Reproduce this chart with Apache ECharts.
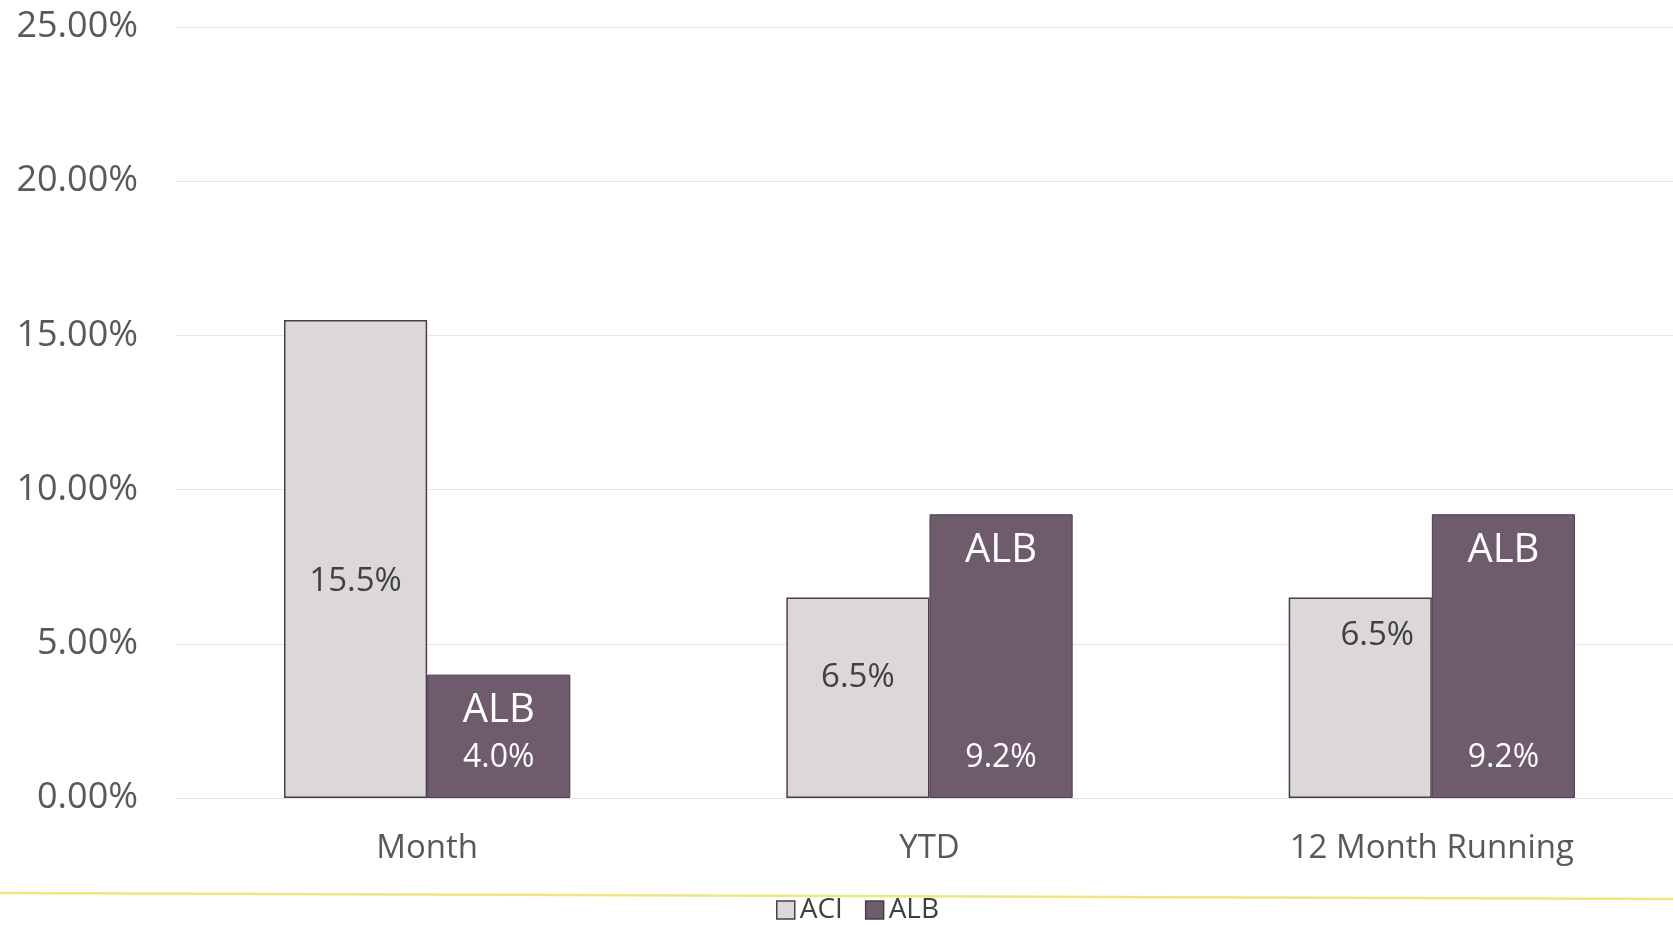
<!DOCTYPE html>
<html>
<head>
<meta charset="utf-8">
<title>ACI vs ALB</title>
<script src="https://cdn.jsdelivr.net/npm/echarts@6/dist/echarts.min.js"></script>
<style>
  html, body { margin: 0; padding: 0; background: #ffffff; }
  #chart { width: 1673px; height: 925px; }
</style>
</head>
<body>
<div id="chart"></div>
<script>
// Datos del grafico
const categorias = ['Month', 'YTD', '12 Month Running'];
const valoresACI = [15.5, 6.5, 6.5];
const valoresALB = [4.0, 9.2, 9.2];
const ticksY = [0, 5, 10, 15, 20, 25];

// Desplazamiento de las etiquetas de ACI (movidas a mano en el original)
const desplazamientoACI = [[0, 23], [0, -20], [17, -62]];

const fuente = '"Open Sans", "Noto Sans", sans-serif';
const colorACI = '#dcd8da';
const colorALB = '#6e5c6c';
const colorBorde = '#4a3f48';

document.addEventListener('DOMContentLoaded', function() {
  initChart();
});

function initChart() {
  const chart = echarts.init(document.getElementById('chart'), null, { renderer: 'canvas' });

  const dataACI = valoresACI.map(function(v, i) {
    return { value: v, label: { offset: desplazamientoACI[i] } };
  });

  const option = {
    backgroundColor: '#ffffff',
    animation: false,
    textStyle: { fontFamily: fuente },
    // el area de trazado sigue un poco mas alla del borde derecho
    grid: { left: 176, width: 1507, top: 27, bottom: 127, containLabel: false, outerBoundsMode: 'none' },
    legend: {
      data: ['ACI', 'ALB'],
      left: 776,
      top: 896,
      padding: 0,
      itemWidth: 18,
      itemHeight: 18,
      itemGap: 22,
      icon: 'rect',
      textStyle: { fontSize: 28, color: '#404040', fontFamily: fuente },
      itemStyle: { borderColor: colorBorde, borderWidth: 1.5 }
    },
    xAxis: [
      {
        type: 'category',
        data: categorias,
        axisLine: { show: true, lineStyle: { color: '#e2e2e2', width: 1 } },
        axisTick: { show: false },
        axisLabel: { fontSize: 33, color: '#595959', margin: 34, fontFamily: fuente }
      },
      {
        type: 'category',
        data: categorias,
        show: false
      }
    ],
    yAxis: {
      type: 'value',
      min: ticksY[0],
      max: ticksY[ticksY.length - 1],
      interval: 5,
      axisLine: { show: false },
      axisTick: { show: false },
      splitLine: { lineStyle: { color: '#e6e6e6', width: 1 } },
      axisLabel: {
        fontSize: 36,
        color: '#595959',
        margin: 38,
        fontFamily: fuente,
        formatter: function(v) { return v.toFixed(2) + '%'; }
      }
    },
    series: [
      {
        name: 'ACI',
        type: 'bar',
        barGap: 0,
        barCategoryGap: '43%',
        itemStyle: { color: colorACI, borderColor: colorBorde, borderWidth: 1.5 },
        label: {
          show: true,
          position: 'inside',
          fontSize: 33,
          color: '#404040',
          fontFamily: fuente,
          formatter: function(p) { return p.value.toFixed(1) + '%'; }
        },
        data: dataACI
      },
      {
        name: 'ALB',
        type: 'bar',
        barGap: 0,
        barCategoryGap: '43%',
        itemStyle: { color: colorALB, borderColor: colorBorde, borderWidth: 1 },
        label: {
          show: true,
          position: 'insideTop',
          distance: 16,
          fontSize: 40,
          color: '#ffffff',
          fontFamily: fuente,
          formatter: 'ALB'
        },
        data: valoresALB
      },
      // Capa transparente solo para poner el valor de ALB abajo
      {
        name: 'vacio',
        type: 'bar',
        xAxisIndex: 1,
        barGap: 0,
        barCategoryGap: '43%',
        silent: true,
        itemStyle: { color: 'rgba(0,0,0,0)' },
        data: valoresACI.map(function() { return 0; })
      },
      {
        name: 'valorALB',
        type: 'bar',
        xAxisIndex: 1,
        barGap: 0,
        barCategoryGap: '43%',
        silent: true,
        itemStyle: { color: 'rgba(0,0,0,0)' },
        label: {
          show: true,
          position: 'insideBottom',
          distance: 24,
          fontSize: 32,
          color: '#ffffff',
          fontFamily: fuente,
          formatter: function(p) { return p.value.toFixed(1) + '%'; }
        },
        data: valoresALB
      }
    ],
    graphic: [
      {
        type: 'line',
        shape: { x1: 0, y1: 893, x2: 1673, y2: 899 },
        style: { stroke: '#ece77e', lineWidth: 2.5 },
        silent: true
      }
    ]
  };

  chart.setOption(option);

  window.addEventListener('resize', function() {
    chart.resize();
  });
}
</script>
</body>
</html>
